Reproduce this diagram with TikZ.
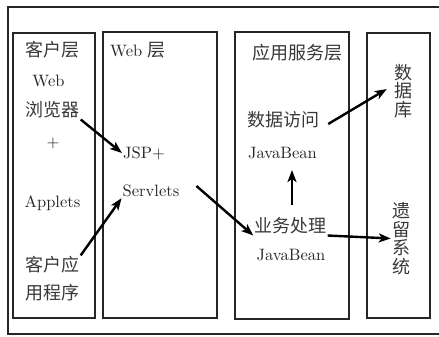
\documentclass[tikz,border=0pt]{standalone}
\usepackage{fontspec}
\setmainfont{lmroman10-regular.otf}
\newfontfamily\cjk{Noto Sans CJK SC}
\usetikzlibrary{arrows.meta}
\begin{document}
\begin{tikzpicture}[x=1pt,y=-1pt,
  frame/.style={draw=black!85, line width=1.3pt},
  box/.style={frame, inner sep=0pt, outer sep=0pt},
  lbl/.style={text=black!85, font=\fontsize{16.5}{20}\selectfont, inner sep=1pt},
  zh/.style={text=black!78, font=\fontsize{18}{18.5}\selectfont\cjk, inner sep=1pt},
  vert/.style={zh, align=center},
  arr/.style={line width=2.4pt, -{Stealth[length=12pt,width=9pt,inset=3pt]}}]
\useasboundingbox (0,0) rectangle (439,337);
% outer frame (right side outside the picture)
\draw[frame] (439,7) -- (8,7) -- (8,334) -- (439,334);
% layer boxes
\node[box, minimum width=82pt, minimum height=285pt] (client) at (54,175.5) {};
\node[box, minimum width=114pt, minimum height=286pt] (web) at (160,175) {};
\node[box, minimum width=114pt, minimum height=287pt] (app) at (292,175.5) {};
\node[box, minimum width=63pt, minimum height=285pt] (back) at (398.5,175.5) {};
% client layer texts
\node[zh] (clienttitle) at (52.5,50) {客户层};
\node[lbl] (webtxt) at (48.5,81) {Web};
\node[zh] (browser) at (52.5,110) {浏览器};
\node[lbl] (plus) at (53,143) {+};
\node[lbl] (applets) at (52.5,203) {Applets};
\node[zh] (clientapp1) at (52.5,265) {客户应};
\node[zh] (clientapp2) at (52.5,293) {用程序};
% web layer texts
\node[lbl, anchor=west] (webtitle) at (109,50) {Web {\cjk\fontsize{18}{18.5}\selectfont\color{black!78}层}};
\node[lbl] (jsp) at (144,153) {JSP+};
\node[lbl] (servlets) at (151,191) {Servlets};
% application server layer
\node[zh] (apptitle) at (297.5,53) {应用服务层};
\node[zh] (dataacc) at (283,120) {数据访问};
\node[lbl] (jb1) at (282.5,153) {JavaBean};
\node[zh] (biz) at (290.5,226) {业务处理};
\node[lbl] (jb2) at (291,255) {JavaBean};
% back end
\node[vert] (db) at (403,91) {数\\据\\库};
\node[vert] (legacy) at (401,238.5) {遗\\留\\系\\统};
% arrows
\coordinate (upstart) at (292,205);
\coordinate (upend) at (292,170);
\draw[arr] (browser.south east) -- (jsp.west);
\draw[arr] (clientapp1.north east) -- (servlets.south west);
\draw[arr] ([shift={(16,-5)}]servlets.east) -- (biz.south west);
\draw[arr] ([shift={(8,4)}]dataacc.east) -- ([shift={(-6,-2)}]db.west);
\draw[arr] (upstart) -- (upend);
\draw[arr] (biz.south east) -- (legacy.west);
\end{tikzpicture}
\end{document}
